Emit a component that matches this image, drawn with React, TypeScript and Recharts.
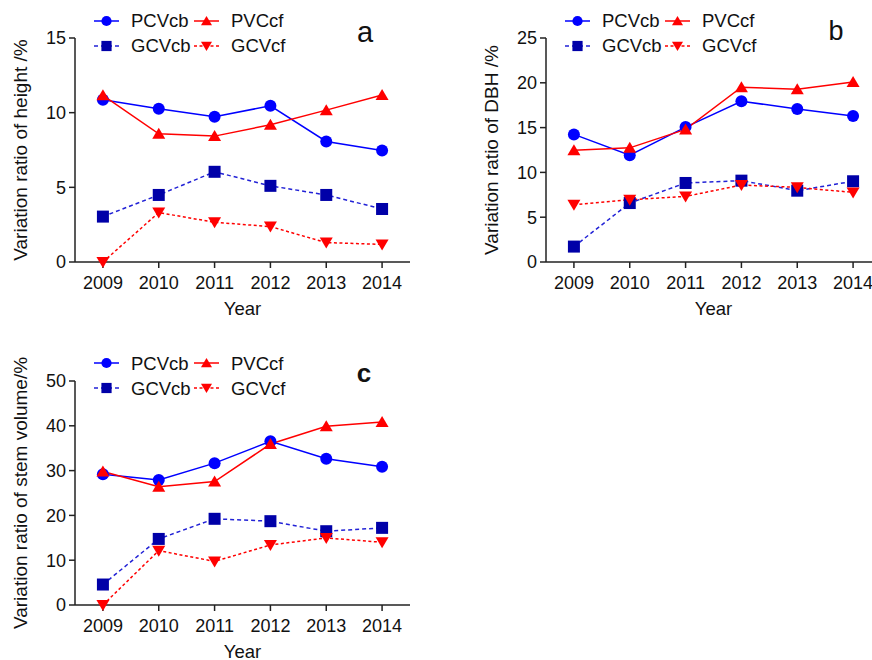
import React from "react";
import { LineChart, Line, XAxis, YAxis, Legend } from "recharts";

const years = [2009, 2010, 2011, 2012, 2013, 2014];

// a: height
const heightPCVcb = [10.87, 10.26, 9.73, 10.46, 8.07, 7.47];
const heightPVCcf = [11.16, 8.58, 8.43, 9.19, 10.17, 11.18];
const heightGCVcb = [3.04, 4.49, 6.04, 5.1, 4.49, 3.55];
const heightGCVcf = [0.0, 3.31, 2.66, 2.37, 1.3, 1.18];
const heightTicks = [0, 5, 10, 15];

// b: DBH
const dbhPCVcb = [14.24, 11.92, 15.06, 17.94, 17.08, 16.29];
const dbhPVCcf = [12.48, 12.74, 14.8, 19.51, 19.28, 20.1];
const dbhGCVcb = [1.72, 6.58, 8.82, 9.08, 7.96, 9.01];
const dbhGCVcf = [6.39, 6.95, 7.32, 8.59, 8.33, 7.77];
const dbhTicks = [0, 5, 10, 15, 20, 25];

// c: stem volume
const volPCVcb = [29.19, 27.92, 31.66, 36.53, 32.63, 30.84];
const volPVCcf = [29.79, 26.42, 27.54, 35.93, 39.9, 40.87];
const volGCVcb = [4.57, 14.75, 19.24, 18.71, 16.47, 17.22];
const volGCVcf = [0.0, 12.13, 9.73, 13.4, 14.97, 14.0];
const volTicks = [0, 10, 20, 30, 40, 50];

const BLUE = "#0000ff";
const NAVY = "#0000a8";
const NAVY_LINE = "#2222d6";
const RED = "#ff0000";
const AXIS = "#222";
const FONT = "Arial, 'Liberation Sans', sans-serif";

const buildRows = (a: number[], b: number[], c: number[], d: number[]) =>
  years.map((year, i) => ({ year, PCVcb: a[i], PVCcf: b[i], GCVcb: c[i], GCVcf: d[i] }));

type Shape = "circle" | "square" | "up" | "down";

function Marker({ shape, cx, cy, s = 1 }: { shape: Shape; cx: number; cy: number; s?: number }) {
  if (shape === "circle") return <circle cx={cx} cy={cy} r={6 * s} fill={BLUE} />;
  if (shape === "square")
    return <rect x={cx - 6 * s} y={cy - 6 * s} width={12 * s} height={12 * s} fill={NAVY} />;
  if (shape === "up")
    return (
      <polygon
        points={`${cx},${cy - 6 * s} ${cx - 6.5 * s},${cy + 5 * s} ${cx + 6.5 * s},${cy + 5 * s}`}
        fill={RED}
      />
    );
  return (
    <polygon
      points={`${cx},${cy + 6 * s} ${cx - 6.5 * s},${cy - 5 * s} ${cx + 6.5 * s},${cy - 5 * s}`}
      fill={RED}
    />
  );
}

const series = [
  { key: "PCVcb", color: BLUE, dash: undefined, shape: "circle" as Shape },
  { key: "PVCcf", color: RED, dash: undefined, shape: "up" as Shape },
  { key: "GCVcb", color: NAVY_LINE, dash: "4 3", shape: "square" as Shape },
  { key: "GCVcf", color: RED, dash: "3 2.5", shape: "down" as Shape },
];

function LegendItem({ s }: { s: (typeof series)[number] }) {
  return (
    <div style={{ display: "flex", alignItems: "center", width: 100, height: 25 }}>
      <svg width={25} height={14} style={{ display: "block" }}>
        <line x1={0} y1={7} x2={25} y2={7} stroke={s.color} strokeWidth={1.5} strokeDasharray={s.dash} />
        <Marker shape={s.shape} cx={12.5} cy={7} s={0.85} />
      </svg>
      <span style={{ marginLeft: 12, fontSize: 18.5, color: "#111", lineHeight: "25px" }}>{s.key}</span>
    </div>
  );
}

function LegendBox() {
  return (
    <div style={{ fontFamily: FONT }}>
      <div style={{ display: "flex" }}>
        <LegendItem s={series[0]} />
        <LegendItem s={series[1]} />
      </div>
      <div style={{ display: "flex" }}>
        <LegendItem s={series[2]} />
        <LegendItem s={series[3]} />
      </div>
    </div>
  );
}

type PanelProps = {
  left: number;
  top: number;
  rows: ReturnType<typeof buildRows>;
  yTicks: number[];
  yLabel: string;
};

function Panel({ left, top, rows, yTicks, yLabel }: PanelProps) {
  return (
    <div style={{ position: "absolute", left, top }}>
      <LineChart
        width={430}
        height={325}
        data={rows}
        margin={{ top: 38, right: 20, bottom: 7, left: 15 }}
        style={{ fontFamily: FONT }}
      >
        <XAxis
          dataKey="year"
          type="number"
          domain={[2008.5, 2014.5]}
          ticks={years}
          interval={0}
          height={56}
          tickSize={6}
          tickMargin={8}
          stroke={AXIS}
          strokeWidth={1.5}
          tick={{ fontSize: 18, fill: "#111" }}
          label={{ value: "Year", position: "insideBottom", offset: 3, fontSize: 18.5, fill: "#111" }}
        />
        <YAxis
          domain={[yTicks[0], yTicks[yTicks.length - 1]]}
          ticks={yTicks}
          interval={0}
          width={60}
          tickSize={6}
          tickMargin={3}
          stroke={AXIS}
          strokeWidth={1.5}
          tick={{ fontSize: 18, fill: "#111" }}
          label={{
            value: yLabel,
            angle: -90,
            position: "insideLeft",
            offset: 5,
            fontSize: 19,
            fill: "#111",
            style: { textAnchor: "middle" },
          }}
        />
        <Legend
          layout="vertical"
          align="center"
          verticalAlign="middle"
          wrapperStyle={{ top: 8, left: 94, width: 210 }}
          content={() => <LegendBox />}
        />
        {series.map((s) => (
          <Line
            key={s.key}
            type="linear"
            dataKey={s.key}
            stroke={s.color}
            strokeWidth={1.5}
            strokeDasharray={s.dash}
            isAnimationActive={false}
            activeDot={false}
            dot={(p: any) => <Marker key={`${s.key}-${p.index}`} shape={s.shape} cx={p.cx} cy={p.cy} />}
          />
        ))}
      </LineChart>
    </div>
  );
}

export default function App() {
  return (
    <div
      style={{
        position: "absolute",
        left: 0,
        top: 0,
        width: 872,
        height: 660,
        overflow: "hidden",
        background: "#fff",
        fontFamily: FONT,
      }}
    >
      <Panel
        left={0}
        top={0}
        rows={buildRows(heightPCVcb, heightPVCcf, heightGCVcb, heightGCVcf)}
        yTicks={heightTicks}
        yLabel="Variation ratio of height /%"
      />
      <Panel
        left={471}
        top={0}
        rows={buildRows(dbhPCVcb, dbhPVCcf, dbhGCVcb, dbhGCVcf)}
        yTicks={dbhTicks}
        yLabel="Variation ratio of DBH /%"
      />
      <Panel
        left={0}
        top={342.5}
        rows={buildRows(volPCVcb, volPVCcf, volGCVcb, volGCVcf)}
        yTicks={volTicks}
        yLabel="Variation ratio of stem volume/%"
      />
      <svg width={872} height={660} style={{ position: "absolute", left: 0, top: 0, pointerEvents: "none" }}>
        <text x={365} y={41.5} textAnchor="middle" fontSize={29} fill="#111" fontFamily={FONT}>
          a
        </text>
        <text x={836} y={40} textAnchor="middle" fontSize={27} fill="#111" fontFamily={FONT}>
          b
        </text>
        <text x={364} y={381.5} textAnchor="middle" fontSize={26} fontWeight="bold" fill="#111" fontFamily={FONT}>
          c
        </text>
      </svg>
    </div>
  );
}
